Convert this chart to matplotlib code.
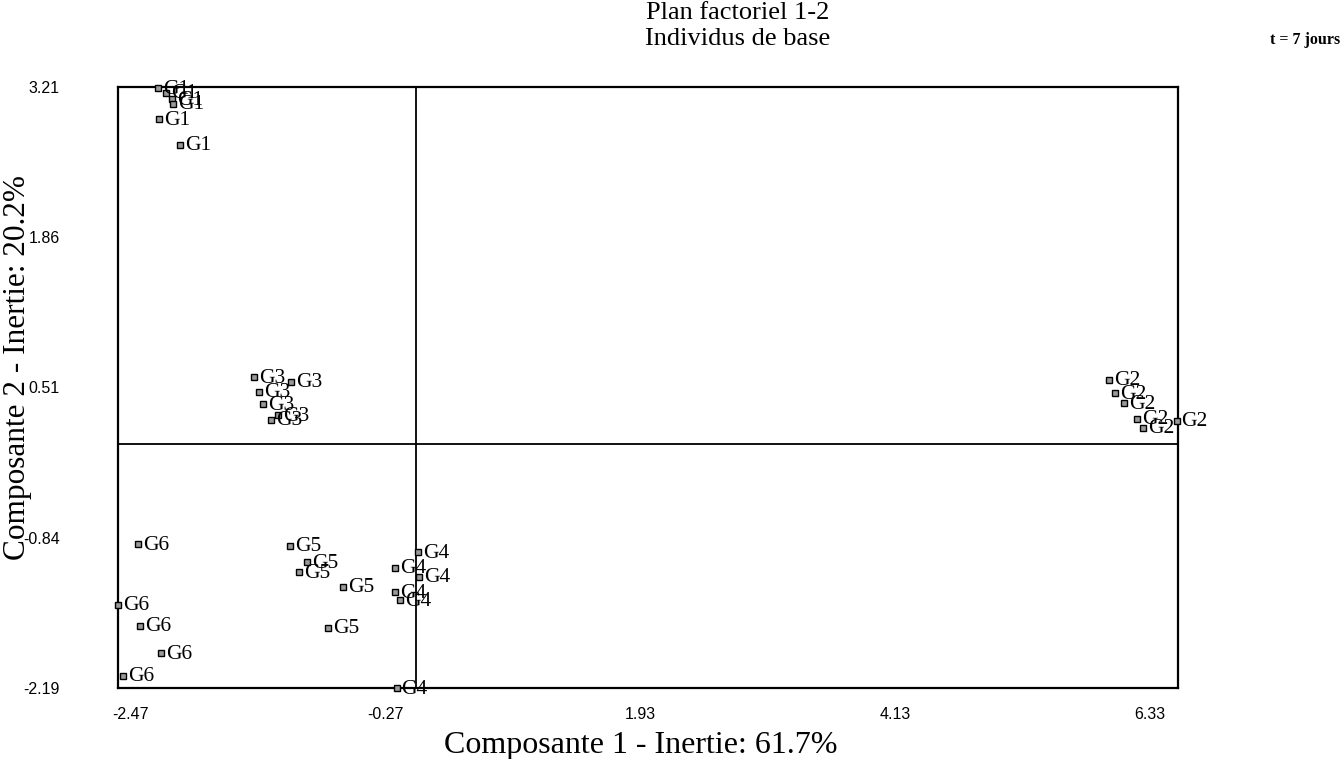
import matplotlib
matplotlib.use("Agg")
import matplotlib.pyplot as plt

# ---- data ----
g1_x = [-2.23, -2.16, -2.11, -2.10, -2.22, -2.04]
g1_y = [3.20, 3.16, 3.10, 3.06, 2.92, 2.69]
g2_x = [5.98, 6.03, 6.11, 6.22, 6.27, 6.56]
g2_y = [0.58, 0.46, 0.37, 0.23, 0.15, 0.21]
g3_x = [-1.40, -1.08, -1.36, -1.32, -1.19, -1.25]
g3_y = [0.60, 0.56, 0.47, 0.36, 0.26, 0.22]
g4_x = [0.015, -0.18, 0.02, -0.18, -0.14, -0.17]
g4_y = [-0.97, -1.11, -1.19, -1.33, -1.40, -2.19]
g5_x = [-1.09, -0.94, -1.01, -0.63, -0.76]
g5_y = [-0.91, -1.06, -1.15, -1.28, -1.65]
g6_x = [-2.40, -2.57, -2.38, -2.20, -2.53]
g6_y = [-0.90, -1.44, -1.63, -1.88, -2.08]

groups = [("G1", g1_x, g1_y), ("G2", g2_x, g2_y), ("G3", g3_x, g3_y),
          ("G4", g4_x, g4_y), ("G5", g5_x, g5_y), ("G6", g6_x, g6_y)]

x_ticks = [-2.47, -0.27, 1.93, 4.13, 6.33]
y_ticks = [-2.19, -0.84, 0.51, 1.86, 3.21]

title_lines = ["Plan factoriel 1-2", "Individus de base"]
x_label = "Composante 1 - Inertie: 61.7%"
y_label = "Composante 2 - Inertie: 20.2%"
corner_note = "t = 7 jours"

# ---- figure ----
serif = ["Liberation Serif", "DejaVu Serif"]
narrow = ["Liberation Sans Narrow", "Liberation Sans", "DejaVu Sans"]

W, H = 1343, 759
fig = plt.figure(figsize=(W / 100, H / 100), dpi=100)
ax = fig.add_axes([118 / W, 1 - 688 / H, (1178 - 118) / W, (688 - 87) / H])

for name, xs, ys in groups:
    ax.plot(xs, ys, linestyle="none", marker="s", markersize=4.5,
            markerfacecolor="#9a9a9a", markeredgecolor="black",
            markeredgewidth=1.0, clip_on=False, zorder=3)
    for x, y in zip(xs, ys):
        ax.annotate(name, (x, y), xytext=(5, -1), textcoords="offset pixels",
                    ha="left", va="center", fontsize=15.5, family=serif,
                    color="black", zorder=4, annotation_clip=False)

ax.axhline(0, color="black", lw=1.3, zorder=2)
ax.axvline(0, color="black", lw=1.3, zorder=2)

ax.set_xlim(-2.574, 6.572)
ax.set_ylim(-2.19, 3.21)
ax.set_xticks(x_ticks)
ax.set_xticklabels([f"{v:.2f}" for v in x_ticks])
ax.set_yticks(y_ticks)
ax.set_yticklabels([f"{v:.2f}" for v in y_ticks])
ax.tick_params(axis="x", length=0, pad=14, labelsize=11.5)
ax.tick_params(axis="y", length=0, pad=42, labelsize=11.5)
for lab in ax.get_xticklabels() + ax.get_yticklabels():
    lab.set_family(narrow)
for sp in ax.spines.values():
    sp.set_linewidth(1.6)
    sp.set_color("black")

fig.text(641 / W, 1 - 745 / H, x_label, ha="center", va="center",
         fontsize=23, family=serif)
fig.text(18 / W, 1 - 368 / H, y_label, ha="center", va="center",
         rotation=90, fontsize=22.5, family=serif)

fig.text(738 / W, 1 - 13 / H, title_lines[0], ha="center", va="center",
         fontsize=19, family=serif)
fig.text(738 / W, 1 - 39 / H, title_lines[1], ha="center", va="center",
         fontsize=19, family=serif)
fig.text(1340 / W, 1 - 40 / H, corner_note, ha="right", va="center",
         fontsize=11.5, family=serif, fontweight="bold")

fig.savefig("out.png", dpi=100)
